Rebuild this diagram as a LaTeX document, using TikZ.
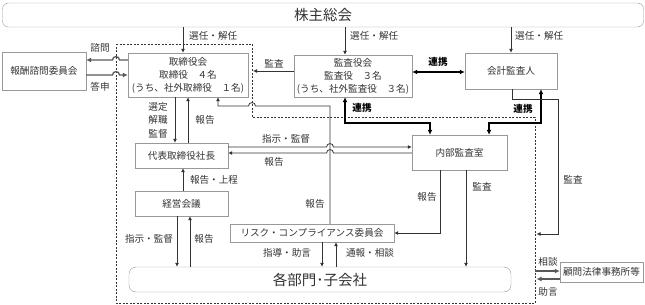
\documentclass[tikz,border=0pt]{standalone}
\usepackage{fontspec}
\setmainfont{Noto Sans CJK JP}
\usetikzlibrary{arrows.meta}
\newcommand\myfs{\fontsize{9.6pt}{13pt}\selectfont}
\newcommand\mybig{\fontsize{14.5pt}{16pt}\selectfont}
\begin{document}
\begin{tikzpicture}[x=1pt,y=-1pt,
  box/.style={draw=black!40, fill=white, inner sep=0pt, align=center, font=\myfs, text=black!80},
  lbl/.style={font=\myfs, inner sep=0pt, text=black!80},
  blbl/.style={font=\myfs\bfseries, inner sep=0pt, text=black},
  arr/.style={-{Latex[length=4pt,width=4pt]}, draw=black!80, line width=0.8pt},
  garr/.style={-{Latex[length=5pt,width=5pt]}, draw=black!65, line width=1.3pt},
  tarr/.style={{Latex[length=5pt,width=5pt]}-{Latex[length=5pt,width=5pt]}, draw=black, line width=2pt},
  dashbox/.style={draw=black!80, line width=0.7pt, dash pattern=on 2pt off 1.5pt}
]
\useasboundingbox (0,0) rectangle (645,305);

% company boundary
\draw[dashbox] (116,44) -- (252,44) -- (252,117) -- (535,117) -- (535,303) -- (116,303) -- cycle;

% nodes
\node[box,rounded corners=6pt,minimum width=641pt,minimum height=24pt,font=\mybig] (kabu) at (323,15) {株主総会};
\node[box,minimum width=84pt,minimum height=38pt] (hoshu) at (44,71) {報酬諮問委員会};
\node[box,minimum width=120pt,minimum height=44pt] (tori) at (188,75) {取締役会\\取締役　４名\\(うち、社外取締役　１名)};
\node[box,minimum width=118pt,minimum height=42pt] (kansa) at (353,76) {監査役会\\監査役　３名\\(うち、社外監査役　３名)};
\node[box,minimum width=92pt,minimum height=36pt] (kaikei) at (511,71) {会計監査人};
\node[box,minimum width=95pt,minimum height=35pt] (naibu) at (459.5,152.5) {内部監査室};
\node[box,minimum width=93pt,minimum height=25pt] (shacho) at (181.5,155.5) {代表取締役社長};
\node[box,minimum width=93pt,minimum height=25pt] (keiei) at (181.5,203.5) {経営会議};
\node[box,minimum width=164pt,minimum height=18pt] (risk) at (312,233) {リスク・コンプライアンス委員会};
\node[box,rounded corners=7pt,minimum width=382pt,minimum height=25pt,font=\mybig] (kakubu) at (320,279.5) {各部門･子会社};
\node[box,minimum width=83pt,minimum height=20pt] (komon) at (601.5,272) {顧問法律事務所等};

\coordinate (dA) at (253,71);
\coordinate (dB) at (536.5,234);
\coordinate (dC) at (535,271);
\coordinate (dD) at (536.5,279);

% shareholders' appointments
\draw[arr] ([xshift=-140pt]kabu.south) -- ([xshift=-5pt]tori.north);
\draw[arr] ([xshift=22pt]kabu.south) -- ([xshift=-8pt]kansa.north);
\draw[arr] ([xshift=188pt]kabu.south) -- (kaikei.north);
\node[lbl,anchor=west] at (189,36) {選任・解任};
\node[lbl,anchor=west] at (350,36) {選任・解任};
\node[lbl,anchor=west] at (515,36) {選任・解任};

% advisory committee
\draw[garr] ([yshift=15pt]tori.west) -- (119.5,60) .. controls (119.5,55.5) and (112.5,55.5) .. (112.5,60) -- ([yshift=11pt]hoshu.east);
\draw[garr] ([yshift=-4pt]hoshu.east) -- (112.5,75) .. controls (112.5,70.5) and (119.5,70.5) .. (119.5,75) -- (tori.west);
\node[lbl] at (100,48) {諮問};
\node[lbl] at (100,87) {答申};

% audit by kansayaku
\draw[arr] ([yshift=5pt]kansa.west) -- (dA);
\node[lbl] at (274,64) {監査};

% cooperation
\draw[tarr] ([yshift=4pt]kansa.east) -- ([yshift=-1pt]kaikei.west);
\node[blbl] at (438,62) {連携};
\draw[tarr] ([xshift=-8pt]kansa.south) -- (345,123) -- (430,123) -- ([xshift=-29.5pt]naibu.north);
\node[blbl] at (362,108) {連携};
\draw[tarr] ([xshift=30pt]kaikei.south) -- (541,123) -- (489,123) -- ([xshift=29.5pt]naibu.north);
\node[blbl] at (523,109) {連携};

% accounting auditor audit
\draw[arr] ([xshift=1pt]kaikei.south) -- (512,99) -- (558,99) -- (558,234) -- (dB);
\node[lbl] at (573,180) {監査};

% board <-> president
\draw[arr] ([xshift=-13pt]tori.south) -- ([xshift=-6.5pt]shacho.north);
\draw[arr] ([xshift=6.5pt]shacho.north) -- (tori.south);
\node[lbl] at (158,107) {選定};
\node[lbl] at (158,120) {解職};
\node[lbl] at (158,134) {監督};
\node[lbl] at (205,120) {報告};

% risk committee -> board
\draw[arr] ([xshift=18pt]risk.north) -- (330,106) -- (255.5,106) .. controls (255.5,101.5) and (248.5,101.5) .. (248.5,106) -- (218,106) -- ([xshift=30pt]tori.south);
\node[lbl] at (315,204) {報告};

% president <-> internal audit
\draw[arr] ([yshift=8.5pt]shacho.east) -- (326.5,147) .. controls (326.5,142.5) and (333.5,142.5) .. (333.5,147) -- ([yshift=5.5pt]naibu.west);
\draw[arr] ([yshift=-0.5pt]naibu.west) -- (333.5,153) .. controls (333.5,148.5) and (326.5,148.5) .. (326.5,153) -- ([yshift=2.5pt]shacho.east);
\node[lbl] at (286,139) {指示・監督};
\node[lbl] at (274,162) {報告};

% management meeting -> president
\draw[arr] ([xshift=1.5pt]keiei.north) -- ([xshift=1.5pt]shacho.south);
\node[lbl] at (214,180) {報告・上程};

% management meeting <-> divisions
\draw[arr] ([xshift=-4.5pt]keiei.south) -- ([xshift=-143pt]kakubu.north);
\draw[arr] ([xshift=-130pt]kakubu.north) -- ([xshift=8.5pt]keiei.south);
\node[lbl] at (149,239) {指示・監督};
\node[lbl] at (204,239) {報告};

% internal audit -> risk, divisions
\draw[arr] ([xshift=-19.5pt]naibu.south) -- (440,233) -- (risk.east);
\node[lbl] at (427,197) {報告};
\draw[arr] ([xshift=6.5pt]naibu.south) -- ([xshift=146pt]kakubu.north);
\node[lbl] at (482,187) {監査};

% risk <-> divisions
\draw[arr] ([xshift=10pt]risk.south) -- ([xshift=2pt]kakubu.north);
\draw[arr] ([xshift=16pt]kakubu.north) -- ([xshift=24pt]risk.south);
\node[lbl] at (287,253) {指導・助言};
\node[lbl] at (370,253) {通報・相談};

% legal advisors
\draw[garr] (dC) -- ([yshift=1pt]komon.west);
\draw[garr] ([yshift=-7pt]komon.west) -- (dD);
\node[lbl] at (548,262) {相談};
\node[lbl] at (548,292) {助言};
\end{tikzpicture}
\end{document}
